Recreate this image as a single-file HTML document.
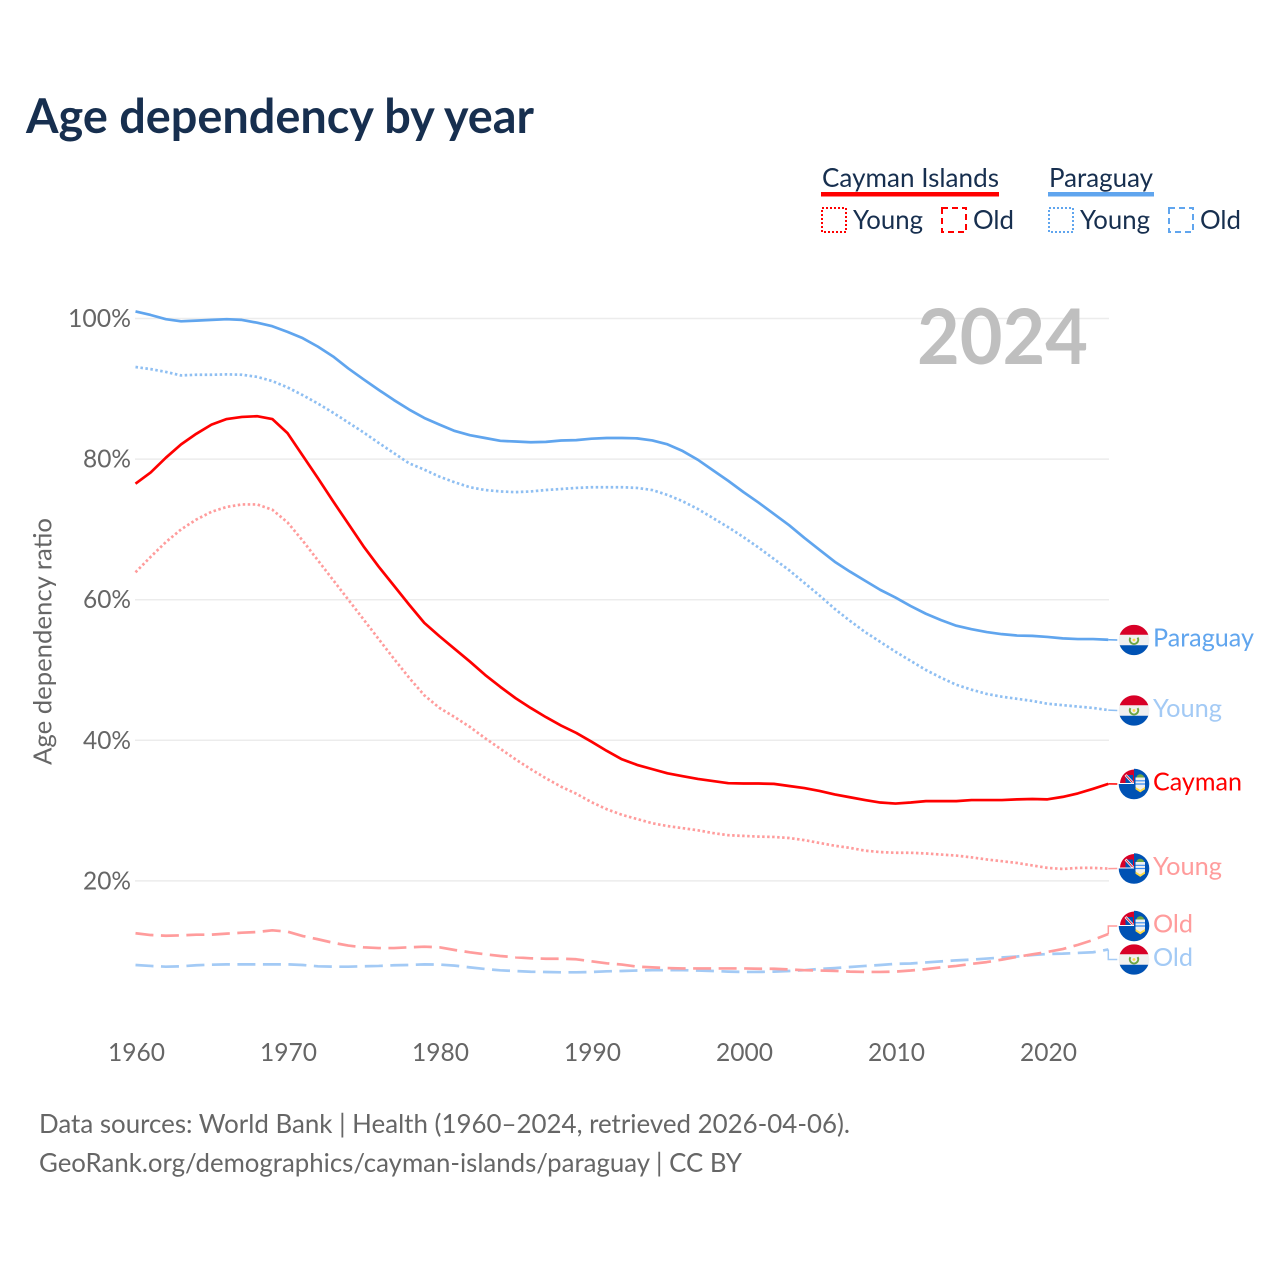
<!DOCTYPE html>
<html lang="en">
<head>
<meta charset="utf-8">
<title>Age dependency by year</title>
<style>
html,body{margin:0;padding:0;background:#fff;}
svg{display:block;}
text{font-family:"Lato","Carlito","Liberation Sans",sans-serif;}
</style>
</head>
<body>
<svg id="chart" width="1280" height="1280" viewBox="0 0 1280 1280" xmlns="http://www.w3.org/2000/svg">
  <rect width="1280" height="1280" fill="#ffffff"/>
  <text x="26" y="133" font-size="47.5" font-weight="700" fill="#172f4f" textLength="508" lengthAdjust="spacingAndGlyphs">Age dependency by year</text>

  <g>
    <text x="822" y="187" font-size="26" fill="#172f4f" textLength="177" lengthAdjust="spacingAndGlyphs">Cayman Islands</text>
    <rect x="821" y="192" width="178" height="4.5" fill="#ff0000"/>
    <text x="1049" y="187" font-size="26" fill="#172f4f" textLength="104" lengthAdjust="spacingAndGlyphs">Paraguay</text>
    <rect x="1048" y="192" width="106" height="4.5" fill="#60a5ee"/>

    <rect x="822" y="208" width="24" height="24" fill="none" stroke="#ff0000" stroke-width="2" stroke-dasharray="2 2"/>
    <text x="853" y="229" font-size="26" fill="#172f4f" textLength="70" lengthAdjust="spacingAndGlyphs">Young</text>
    <rect x="942" y="208" width="24" height="24" fill="none" stroke="#ff0000" stroke-width="2" stroke-dasharray="6 4"/>
    <text x="973" y="229" font-size="26" fill="#172f4f" textLength="41" lengthAdjust="spacingAndGlyphs">Old</text>

    <rect x="1049" y="208" width="24" height="24" fill="none" stroke="#60a5ee" stroke-width="2" stroke-dasharray="2 2"/>
    <text x="1080" y="229" font-size="26" fill="#172f4f" textLength="70" lengthAdjust="spacingAndGlyphs">Young</text>
    <rect x="1169" y="208" width="24" height="24" fill="none" stroke="#60a5ee" stroke-width="2" stroke-dasharray="6 4"/>
    <text x="1200" y="229" font-size="26" fill="#172f4f" textLength="41" lengthAdjust="spacingAndGlyphs">Old</text>
  </g>

  <g id="grid"></g>
  <g id="yticks"></g>
  <g id="xticks"></g>
  <text transform="translate(51.5,641.5) rotate(-90)" text-anchor="middle" font-size="25.6" fill="#666666" textLength="247" lengthAdjust="spacingAndGlyphs">Age dependency ratio</text>
  <text x="917" y="364" font-size="77" font-weight="700" fill="#bfbfbf" textLength="171" lengthAdjust="spacingAndGlyphs">2024</text>

  <g id="series"></g>
  <g id="endlabels"></g>

  <text x="39" y="1133" font-size="26" fill="#666666" textLength="811" lengthAdjust="spacingAndGlyphs">Data sources: World Bank | Health (1960–2024, retrieved 2026-04-06).</text>
  <text x="39" y="1172" font-size="26" fill="#666666" textLength="703" lengthAdjust="spacingAndGlyphs">GeoRank.org/demographics/cayman-islands/paraguay | CC BY</text>
</svg>

<script>
const startYear = 1960;
const xTickYears = [1960, 1970, 1980, 1990, 2000, 2010, 2020];
const yTickValues = [20, 40, 60, 80, 100];

const paraguayTotal = [101.0,100.5,99.9,99.6,99.7,99.8,99.9,99.8,99.4,98.9,98.1,97.2,96.0,94.6,92.9,91.35,89.85,88.4,87.05,85.85,84.9,84.0,83.4,83.0,82.6,82.5,82.4,82.45,82.65,82.7,82.9,83.0,83.0,82.95,82.65,82.1,81.15,79.9,78.4,76.9,75.3,73.8,72.2,70.6,68.8,67.1,65.4,64.0,62.7,61.4,60.3,59.1,58.0,57.1,56.3,55.8,55.4,55.1,54.9,54.85,54.7,54.5,54.4,54.4,54.3];
const paraguayYoung = [93.1,92.8,92.4,91.9,92.0,92.0,92.05,92.0,91.7,91.1,90.2,89.1,87.9,86.6,85.2,83.8,82.3,80.85,79.4,78.5,77.5,76.7,76.0,75.6,75.4,75.3,75.4,75.6,75.75,75.9,76.0,76.0,76.0,75.9,75.6,74.9,74.0,72.9,71.6,70.3,68.9,67.4,65.8,64.2,62.4,60.6,58.7,57.0,55.4,54.0,52.6,51.3,50.0,48.9,47.9,47.2,46.6,46.2,45.9,45.6,45.2,45.0,44.8,44.6,44.3];
const paraguayOld = [8.04,7.9,7.8,7.85,8.0,8.08,8.13,8.13,8.13,8.13,8.13,8.04,7.85,7.8,7.8,7.85,7.9,8.0,8.04,8.13,8.1,7.95,7.7,7.47,7.28,7.18,7.08,7.04,7.0,7.0,7.04,7.14,7.18,7.25,7.3,7.3,7.3,7.25,7.18,7.1,7.05,7.05,7.1,7.18,7.3,7.47,7.6,7.75,7.9,8.04,8.2,8.25,8.4,8.55,8.7,8.8,8.95,9.1,9.25,9.45,9.6,9.65,9.75,9.85,10.25];
const caymanTotal = [76.5,78.1,80.2,82.1,83.6,84.9,85.7,86.0,86.1,85.7,83.7,80.5,77.3,74.0,70.8,67.6,64.7,62.0,59.3,56.7,54.8,53.0,51.2,49.3,47.6,46.0,44.6,43.3,42.1,41.05,39.8,38.5,37.3,36.5,35.9,35.3,34.9,34.5,34.2,33.9,33.85,33.85,33.8,33.5,33.2,32.8,32.3,31.9,31.5,31.15,31.0,31.15,31.35,31.35,31.35,31.5,31.5,31.5,31.6,31.65,31.6,31.95,32.45,33.1,33.8];
const caymanYoung = [63.9,66.1,68.2,70.0,71.4,72.5,73.2,73.55,73.55,72.8,71.0,68.4,65.6,62.8,60.0,57.2,54.4,51.6,48.9,46.4,44.6,43.3,41.9,40.3,38.8,37.3,35.9,34.6,33.4,32.4,31.2,30.2,29.4,28.8,28.2,27.8,27.5,27.2,26.8,26.5,26.4,26.3,26.25,26.1,25.8,25.4,25.0,24.7,24.3,24.1,24.0,24.0,23.9,23.75,23.6,23.35,23.05,22.8,22.55,22.2,21.85,21.7,21.85,21.85,21.75];
const caymanOld = [12.55,12.3,12.2,12.25,12.35,12.35,12.5,12.63,12.73,12.97,12.78,12.16,11.7,11.2,10.8,10.55,10.45,10.45,10.55,10.64,10.55,10.17,9.84,9.56,9.32,9.13,8.99,8.93,8.93,8.85,8.56,8.28,8.1,7.8,7.7,7.6,7.55,7.55,7.55,7.55,7.55,7.5,7.5,7.4,7.3,7.25,7.2,7.1,7.05,7.05,7.1,7.25,7.45,7.7,7.9,8.2,8.45,8.8,9.2,9.55,9.9,10.3,10.9,11.6,12.45];

const NS = 'http://www.w3.org/2000/svg';
function xScale(year) { return 135.5 + (year - 1960) * 15.2; }
function yScale(v) { return 1021.5 - v * 7.03; }
function mk(tag, attrs, parent) {
  const el = document.createElementNS(NS, tag);
  for (const k in attrs) el.setAttribute(k, attrs[k]);
  parent.appendChild(el);
  return el;
}

const gridG = document.getElementById('grid');
const yTickG = document.getElementById('yticks');
const xTickG = document.getElementById('xticks');
const seriesG = document.getElementById('series');
const labelG = document.getElementById('endlabels');

yTickValues.forEach(function (v) {
  const line = mk('line', {x1: 135, x2: 1109, y1: yScale(v), y2: yScale(v), stroke: '#ececec', 'stroke-width': 1.5}, gridG);
  
  
  const t = mk('text', {x: 131, y: yScale(v) + 8.5, 'text-anchor': 'end', 'font-size': 25, fill: '#666666', textLength: v === 100 ? 63 : 48, lengthAdjust: 'spacingAndGlyphs'}, yTickG);
  t.textContent = v + '%';
  
  
});

xTickYears.forEach(function (yr) {
  const t = mk('text', {x: xScale(yr) + 1, y: 1061, 'text-anchor': 'middle', 'font-size': 25, fill: '#666666', textLength: 57, lengthAdjust: 'spacingAndGlyphs'}, xTickG);
  t.textContent = yr;
  
  
});

function drawParaguayFlag(cx, cy, parent) {
  const g = mk('g', {transform: 'translate(' + cx + ',' + cy + ')'}, parent);
  
  
  mk('circle', {r: 15.3, fill: '#f0f0f0'}, g);
  mk('path', {d: 'M-14.3-5.3A15.3 15.3 0 0 1 14.3-5.3Z', fill: '#d80027'}, g);
  mk('path', {d: 'M-14.3 5.3A15.3 15.3 0 0 0 14.3 5.3Z', fill: '#0052b4'}, g);
  mk('path', {d: 'M-3.6-2.4A4.2 4.2 0 1 0 3.6-2.4', fill: 'none', stroke: '#6da544', 'stroke-width': 2}, g);
  mk('circle', {r: 1.4, fill: '#ffda44'}, g);
}

function drawCaymanFlag(cx, cy, parent) {
  const g = mk('g', {transform: 'translate(' + cx + ',' + cy + ')'}, parent);
  
  
  mk('path', {d: 'M-15.3 0A15.3 15.3 0 1 0 0-15.3V0Z', fill: '#0052b4'}, g);
  mk('path', {d: 'M-14-1A14.5 14.5 0 0 1 0-14.5V-1Z', fill: '#d80027'}, g);
  mk('rect', {x: -8.5, y: -9, width: 7.5, height: 8, fill: '#0052b4'}, g);
  mk('path', {d: 'M-8.5-9L-1-1', stroke: '#f0f0f0', 'stroke-width': 2.6}, g);
  mk('path', {d: 'M-8-8.5L-1.5-1.5', stroke: '#d80027', 'stroke-width': 0.9}, g);
  mk('path', {d: 'M1.5-6.5H11V2.5A4.75 4.75 0 0 1 6.25 7A4.75 4.75 0 0 1 1.5 2.5Z', fill: '#f0f0f0'}, g);
  mk('path', {d: 'M1.5-3.2H11M1.5 0H11', stroke: '#338af3', 'stroke-width': 1.2}, g);
  mk('path', {d: 'M1.5 3L6.25 6L11 3V5.2L6.25 8.4L1.5 5.2Z', fill: '#ffda44'}, g);
  mk('path', {d: 'M2.5-6.5A3.75 3.2 0 0 1 10-6.5Z', fill: '#6da544'}, g);
}

function drawSeries(values, name, color, dash, width, label, labelY, labelWidth, flag, labelColor) {
  const pts = values.map(function (v, i) { return xScale(startYear + i) + ',' + yScale(v).toFixed(2); });
  const endX = xScale(startYear + values.length - 1);
  const endY = yScale(values[values.length - 1]);
  const line = mk('polyline', {points: pts.join(' '), fill: 'none', stroke: color, 'stroke-width': width, 'stroke-linejoin': 'round'}, seriesG);
  if (dash) line.setAttribute('stroke-dasharray', dash);
  
  

  const connector = Math.abs(labelY - endY) > 2
    ? endX + ',' + endY.toFixed(2) + ' ' + endX + ',' + labelY + ' ' + (endX + 9) + ',' + labelY
    : endX + ',' + endY.toFixed(2) + ' ' + (endX + 9) + ',' + labelY;
  const conn = mk('polyline', {points: connector, fill: 'none', stroke: color, 'stroke-width': 1.5}, labelG);
  
  

  flag(1134, labelY, labelG);
  const t = mk('text', {x: 1153, y: labelY + 6.5, 'font-size': 25.5, fill: labelColor || color, textLength: labelWidth, lengthAdjust: 'spacingAndGlyphs'}, labelG);
  t.textContent = label;
  
  
}

drawSeries(paraguayOld, 'paraguay-old', '#a3caf5', '18 7.5', 2.7, 'Old', 959.5, 40, drawParaguayFlag);
drawSeries(caymanOld, 'cayman-old', '#ff9c9c', '18 7.5', 2.7, 'Old', 926, 40, drawCaymanFlag);
drawSeries(caymanYoung, 'cayman-young', '#ff9c9c', '2.5 2.5', 2.7, 'Young', 868.5, 69, drawCaymanFlag);
drawSeries(paraguayYoung, 'paraguay-young', '#8fbff2', '2.5 2.5', 2.7, 'Young', 710.5, 69, drawParaguayFlag, '#a3caf5');
drawSeries(caymanTotal, 'cayman-total', '#ff0000', null, 2.7, 'Cayman', 784, 89, drawCaymanFlag);
drawSeries(paraguayTotal, 'paraguay-total', '#60a5ee', null, 2.7, 'Paraguay', 640, 101, drawParaguayFlag);
</script>
</body>
</html>
